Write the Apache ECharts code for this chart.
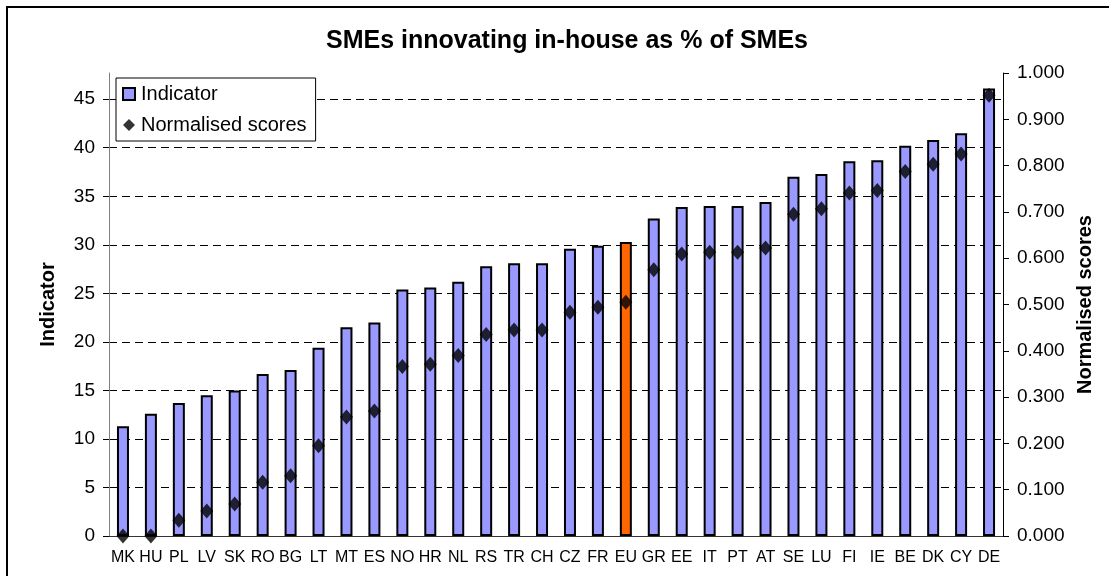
<!DOCTYPE html>
<html>
<head>
<meta charset="utf-8">
<script src="https://cdn.jsdelivr.net/npm/echarts@6/dist/echarts.min.js"></script>
<style>html,body{margin:0;padding:0;background:#fff;}#c{width:1109px;height:576px;}</style>
</head>
<body>
<div id="c"></div>
<script>
const categories = ['MK','HU','PL','LV','SK','RO','BG','LT','MT','ES','NO','HR','NL','RS','TR','CH','CZ','FR','EU','GR','EE','IT','PT','AT','SE','LU','FI','IE','BE','DK','CY','DE'];
const indicator = [11.3,12.6,13.7,14.5,15.0,16.7,17.1,19.4,21.5,22.0,25.4,25.6,26.2,27.8,28.1,28.1,29.6,29.9,30.3,32.7,33.9,34.0,34.0,34.4,37.0,37.3,38.6,38.7,40.2,40.8,41.5,46.1];
const normalised = [0.000,0.000,0.034,0.054,0.069,0.116,0.130,0.195,0.257,0.270,0.366,0.371,0.390,0.435,0.445,0.445,0.483,0.494,0.505,0.575,0.609,0.613,0.613,0.622,0.695,0.707,0.741,0.746,0.787,0.803,0.825,0.952];
const highlightCategory = 'EU';

const FONT = 'Arial, "Liberation Sans", sans-serif';
const chart = echarts.init(document.getElementById('c'), null, {renderer:'canvas'});

const barData = indicator.map((v,i) => categories[i] === highlightCategory
  ? {value: v, itemStyle: {color: '#FF6600'}}
  : v);

chart.setOption({
  animation: false,
  backgroundColor: '#fff',
  textStyle: {fontFamily: FONT},
  graphic: [{
    type: 'rect', silent: true,
    shape: {x: 7, y: 7, width: 1120, height: 620},
    style: {fill: 'none', stroke: '#000', lineWidth: 2}
  }],
  title: {
    text: 'SMEs innovating in-house as % of SMEs',
    left: 562, top: 24, textAlign: 'center',
    textStyle: {fontFamily: FONT, fontSize: 25, fontWeight: 'bold', color: '#000'}
  },
  legend: {
    left: 116, top: 78, orient: 'vertical',
    backgroundColor: '#fff',
    borderColor: '#000', borderWidth: 1,
    padding: [6, 9, 6, 6], itemGap: 11,
    itemWidth: 12, itemHeight: 12,
    textStyle: {fontFamily: FONT, fontSize: 20, color: '#000', padding: [0,0,0,1]},
    data: [
      {name: 'Indicator', icon: 'rect', itemStyle: {color: '#9999FF', borderColor: '#000', borderWidth: 2}},
      {name: 'Normalised scores', icon: 'diamond', itemStyle: {color: '#000'}}
    ]
  },
  grid: {left: 109, right: 106, top: 73, bottom: 40, containLabel: false},
  xAxis: {
    type: 'category', data: categories,
    axisLine: {lineStyle: {color: '#333', width: 1}},
    axisTick: {alignWithLabel: false, length: 6, lineStyle: {color: '#000'}},
    axisLabel: {interval: 0, fontFamily: FONT, fontSize: 16, color: '#000', margin: 14}
  },
  yAxis: [{
    type: 'value', min: 0, max: 47.7, interval: 5,
    name: 'Indicator', nameLocation: 'middle', nameGap: 51,
    nameTextStyle: {fontFamily: FONT, fontSize: 20, fontWeight: 'bold', color: '#000'},
    axisLine: {show: true, lineStyle: {color: '#808080', width: 1}},
    axisTick: {show: true, length: 6, lineStyle: {color: '#000'}},
    axisLabel: {showMaxLabel: false, fontFamily: FONT, fontSize: 19, color: '#000', margin: 14},
    splitLine: {show: true, showMinLine: false, showMaxLine: false, lineStyle: {color: '#000', type: [8, 5], width: 1}}
  }, {
    type: 'value', min: 0, max: 1, interval: 0.1, position: 'right',
    name: 'Normalised scores', nameLocation: 'middle', nameGap: 71, nameRotate: 90,
    nameTextStyle: {fontFamily: FONT, fontSize: 20, fontWeight: 'bold', color: '#000'},
    axisLine: {show: true, lineStyle: {color: '#000', width: 1}},
    axisTick: {show: true, length: 6, lineStyle: {color: '#000'}},
    axisLabel: {fontFamily: FONT, fontSize: 19, color: '#000', margin: 14, formatter: v => v.toFixed(3)},
    splitLine: {show: false}
  }],
  series: [{
    name: 'Indicator', type: 'bar', data: barData, yAxisIndex: 0,
    barWidth: 12,
    itemStyle: {color: '#9999FF', borderColor: '#000', borderWidth: 2}
  }, {
    name: 'Normalised scores', type: 'scatter', data: normalised, yAxisIndex: 1,
    symbol: 'diamond', symbolSize: [13, 15],
    itemStyle: {color: '#000'}
  }]
});
</script>
</body>
</html>
